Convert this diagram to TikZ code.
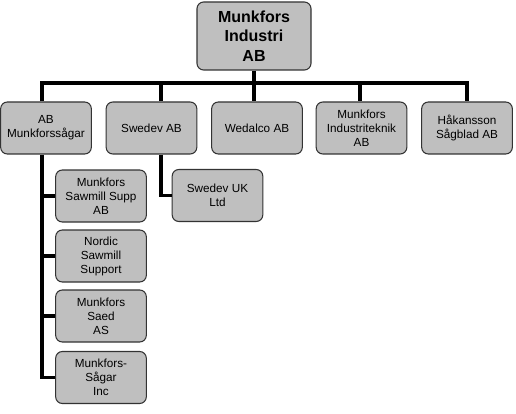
\documentclass[tikz,border=0pt]{standalone}
\usepackage{fontspec}
\setmainfont{Liberation Sans}
\begin{document}
\begin{tikzpicture}[x=0.75pt,y=-0.75pt,
  unit/.style={draw=black!80,line width=0.8pt,fill=black!25,rounded corners=5pt,
    minimum width=68pt,minimum height=39pt,inner sep=1pt,align=center,
    font=\fontsize{8.8}{10.5}\selectfont},
  link/.style={line width=2.3pt}]
\useasboundingbox (0,0) rectangle (516,413);
\node[unit,minimum width=85.5pt,minimum height=51pt,font=\fontsize{12}{14.6}\selectfont\bfseries] (mi) at (254,36) {Munkfors\\Industri\\AB};
\node[unit] (ab) at (46,128) {AB\\Munkforssågar};
\node[unit] (sw) at (151.5,128) {Swedev AB};
\node[unit] (we) at (257,128) {Wedalco AB};
\node[unit] (it) at (361.5,128) {Munkfors\\Industriteknik\\AB};
\node[unit] (ha) at (467,128) {Håkansson\\Sågblad AB};
\node[unit] (ss) at (101,196) {Munkfors\\Sawmill Supp\\AB};
\node[unit] (ns) at (101,256) {Nordic\\Sawmill\\Support};
\node[unit] (sa) at (101,316) {Munkfors\\Saed\\AS};
\node[unit] (si) at (101,377.5) {Munkfors-\\Sågar\\Inc};
\node[unit] (uk) at (217.5,195.5) {Swedev UK\\Ltd};
\coordinate (d1) at (42,83);
\coordinate (d2) at (161,83);
\coordinate (d3) at (254,83);
\coordinate (d4) at (360,83);
\coordinate (d5) at (467,83);
\draw[link] (mi) -- (d3);
\draw[link] (d1 |- ab.north) -- (d1) -- (d5) -- (d5 |- ha.north);
\draw[link] (d2) -- (d2 |- sw.north);
\draw[link] (d3) -- (d3 |- we.north);
\draw[link] (d4) -- (d4 |- it.north);
\draw[link] (d1 |- ab.south) -- (d1 |- si.west) -- (si.west);
\draw[link] (d1 |- ss.west) -- (ss.west);
\draw[link] (d1 |- ns.west) -- (ns.west);
\draw[link] (d1 |- sa.west) -- (sa.west);
\draw[link] (d2 |- sw.south) |- (uk.west);
\end{tikzpicture}
\end{document}
